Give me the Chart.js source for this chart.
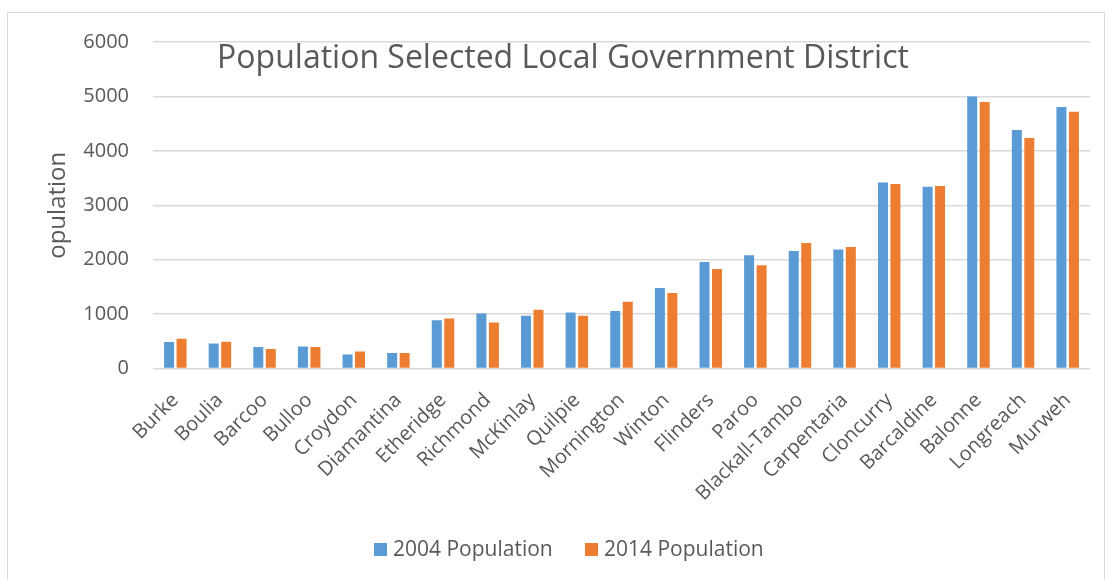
<!DOCTYPE html>
<html lang="en">
<head>
  <meta charset="UTF-8">
  <title>Population Selected Local Government District</title>
  <script src="https://cdn.jsdelivr.net/npm/chart.js"></script>
  <style>
    body {
      margin: 0;
      background: #ffffff;
      font-family: "Open Sans", sans-serif;
    }
    #wrap {
      width: 1115px;
      height: 580px;
    }
  </style>
</head>
<body>
  <div id="wrap">
    <canvas id="popChart" width="1115" height="580"></canvas>
  </div>

  <script>
    const districts = ['Burke', 'Boulia', 'Barcoo', 'Bulloo', 'Croydon', 'Diamantina', 'Etheridge',
      'Richmond', 'McKinlay', 'Quilpie', 'Mornington', 'Winton', 'Flinders', 'Paroo',
      'Blackall-Tambo', 'Carpentaria', 'Cloncurry', 'Barcaldine', 'Balonne', 'Longreach', 'Murweh'];
    const pop2004 = [485, 460, 395, 405, 255, 285, 885, 1010, 968, 1030, 1055, 1478, 1955, 2080,
      2160, 2185, 3420, 3340, 5000, 4385, 4805];
    const pop2014 = [545, 490, 357, 393, 313, 285, 918, 847, 1079, 968, 1226, 1386, 1828, 1896,
      2305, 2232, 3390, 3353, 4897, 4235, 4720];
    const yTicks = [0, 1000, 2000, 3000, 4000, 5000, 6000];

    const textGrey = '#595959';
    const font = '"Open Sans", sans-serif';

    // titre + legende + cadre dessines a la main (comme dans Excel)
    const decor = {
      id: 'decor',
      afterDraw(chart) {
        const c = chart.ctx;
        c.save();
        c.strokeStyle = '#d9d9d9';
        c.lineWidth = 1;
        c.strokeRect(7.5, 12.5, 1097, 620);

        c.fillStyle = textGrey;
        c.font = '32px ' + font;
        c.textAlign = 'center';
        c.textBaseline = 'alphabetic';
        c.fillText('Population Selected Local Government District', 563, 68);

        const ds = chart.data.datasets;
        const items = [{ x: 374 }, { x: 585 }];
        c.font = '21px ' + font;
        c.textAlign = 'left';
        c.textBaseline = 'middle';
        items.forEach((it, i) => {
          c.fillStyle = ds[i].backgroundColor;
          c.fillRect(it.x, 543, 13, 13);
          c.fillStyle = textGrey;
          c.fillText(ds[i].label, it.x + 19, 550);
        });
        c.restore();
      }
    };

    new Chart(document.getElementById('popChart'), {
      type: 'bar',
      data: {
        labels: districts,
        datasets: [
          { label: '2004 Population', data: pop2004, backgroundColor: '#5b9bd5' },
          { label: '2014 Population', data: pop2014, backgroundColor: '#ed7d31' }
        ]
      },
      options: {
        responsive: false,
        animation: false,
        layout: { padding: { top: 42, right: 25, left: 0, bottom: 0 } },
        datasets: {
          bar: { categoryPercentage: 0.56, barPercentage: 0.8 }
        },
        plugins: {
          legend: { display: false },
          title: { display: false },
          tooltip: { enabled: true }
        },
        scales: {
          x: {
            grid: { display: false },
            border: { display: false },
            ticks: {
              color: textGrey,
              font: { family: font, size: 20 },
              maxRotation: 45,
              minRotation: 45,
              autoSkip: false,
              padding: 12
            },
            afterFit(scale) { scale.height = 211.5; }
          },
          y: {
            min: 0,
            max: 6000,
            afterBuildTicks(scale) { scale.ticks = yTicks.map(v => ({ value: v })); },
            grid: { color: '#d9d9d9', lineWidth: 1.5, drawTicks: false },
            border: { display: false },
            ticks: {
              color: textGrey,
              font: { family: font, size: 20 },
              padding: 24,
              callback: v => String(v)
            },
            title: {
              display: true,
              text: 'opulation',
              color: textGrey,
              font: { family: font, size: 24 },
              padding: { top: 44, bottom: 0 }
            },
            afterFit(scale) { scale.width = 153; }
          }
        }
      },
      plugins: [decor]
    });
  </script>
</body>
</html>
